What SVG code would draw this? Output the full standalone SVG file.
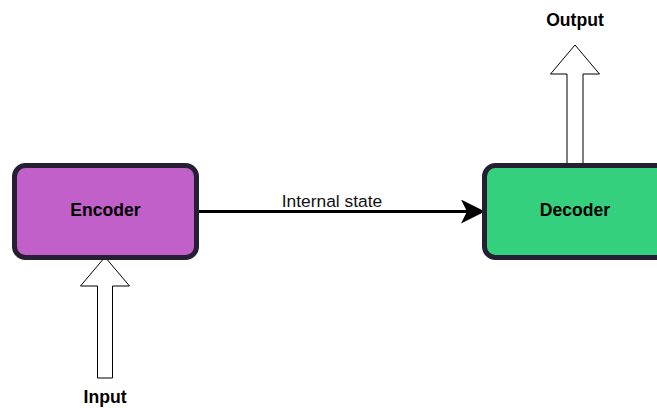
<svg xmlns="http://www.w3.org/2000/svg" width="657" height="408" viewBox="0 0 657 408">
<style>
.box{stroke:#261f33;stroke-width:5}
.lbl{font-family:"Liberation Sans",Arial,sans-serif;font-size:17.6px;font-weight:bold;fill:#000;text-anchor:middle}
.edge{font-family:"Liberation Sans",Arial,sans-serif;font-size:17.4px;fill:#111;text-anchor:middle}
.block{fill:#fff;stroke:#000;stroke-width:1}
</style>
<defs>
<marker id="ah" markerWidth="8" markerHeight="8" refX="7" refY="4" orient="auto" markerUnits="strokeWidth">
<path d="M0,0 L8,4 L0,8 L2,4 Z" fill="#000"/>
</marker>
</defs>
<rect width="657" height="408" fill="#fff"/>
<g id="connectors">
<line x1="198" y1="211.5" x2="482" y2="211.5" stroke="#000" stroke-width="3" marker-end="url(#ah)"/>
<text class="edge" x="332" y="207">Internal state</text>
<path class="block" d="M105,257 L129.5,286 L112.5,286 L112.5,378 L97.5,378 L97.5,286 L80.5,286 Z"/>
<path class="block" d="M575,45 L599.5,74 L583,74 L583,165 L567,165 L567,74 L550.5,74 Z"/>
</g>
<g id="encoder">
<rect class="box" x="14.5" y="165.5" width="182" height="92" rx="11" fill="#c060c8"/>
<text class="lbl" x="105.5" y="216">Encoder</text>
</g>
<g id="decoder">
<rect class="box" x="484.5" y="165.5" width="182" height="92" rx="11" fill="#35d07e"/>
<text class="lbl" x="575" y="216">Decoder</text>
</g>
<g id="input">
<text class="lbl" x="105" y="403">Input</text>
</g>
<g id="output">
<text class="lbl" x="575" y="26">Output</text>
</g>
</svg>
